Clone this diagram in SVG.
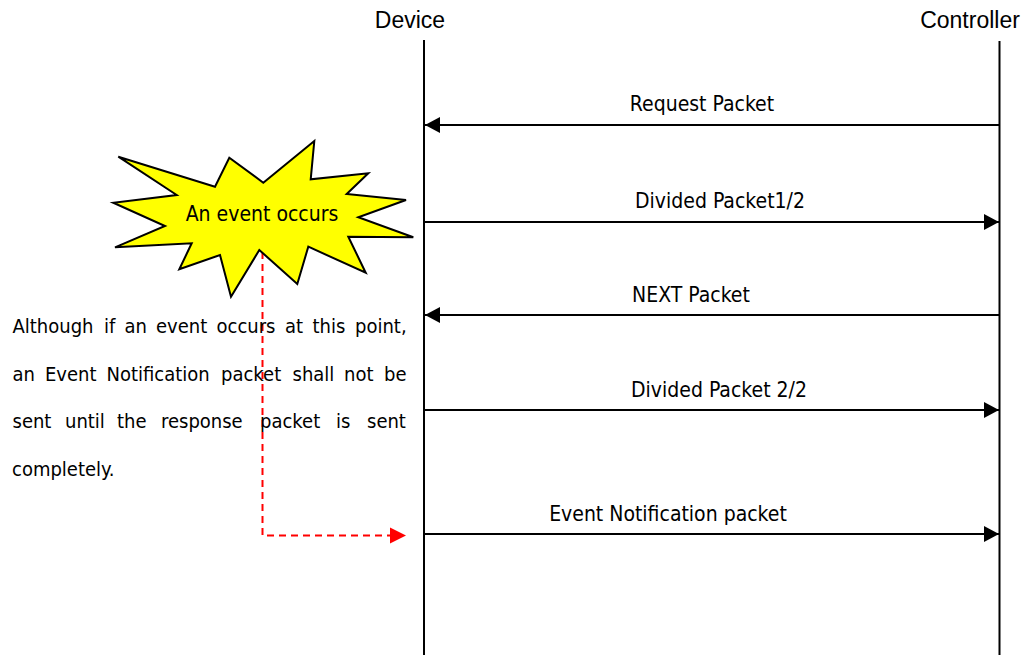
<svg xmlns="http://www.w3.org/2000/svg" width="1031" height="655" viewBox="0 0 1031 655">
  <style>
    .t { font-family: "DejaVu Sans Condensed", "DejaVu Sans", sans-serif; font-stretch: condensed; font-size: 21px; fill: #000; }
    .p { font-family: "DejaVu Sans Condensed", "DejaVu Sans", sans-serif; font-stretch: condensed; font-size: 20px; fill: #000; }
    .head { font-family: "Liberation Sans", Arial, sans-serif; font-size: 23px; fill: #000; }
    .life { stroke: #000; stroke-width: 2; fill: none; }
    .msg { stroke: #000; stroke-width: 2; fill: none; }
    .hint { stroke: #ff0000; stroke-width: 2; fill: none; stroke-dasharray: 7 5; }
  </style>
  <defs>
    <marker id="ah" viewBox="0 0 15 16" refX="15" refY="8" markerWidth="15" markerHeight="16" markerUnits="userSpaceOnUse" orient="auto">
      <path d="M0,0 L15,8 L0,16 Z" fill="#000"/>
    </marker>
  </defs>
  <rect width="1031" height="655" fill="#fff"/>

  <!-- participants -->
  <g id="device">
    <text class="head" x="410" y="28" text-anchor="middle">Device</text>
    <line class="life" x1="424" y1="40" x2="424" y2="655"/>
  </g>
  <g id="controller">
    <text class="head" x="970" y="28" text-anchor="middle">Controller</text>
    <line class="life" x1="999.5" y1="41" x2="999.5" y2="655"/>
  </g>

  <!-- messages -->
  <g id="connectors">
    <line class="msg" x1="999" y1="125" x2="425" y2="125" marker-end="url(#ah)"/>
    <text class="t" x="702" y="111" text-anchor="middle">Request Packet</text>

    <line class="msg" x1="424" y1="222" x2="999" y2="222" marker-end="url(#ah)"/>
    <text class="t" x="720" y="208" text-anchor="middle">Divided Packet1/2</text>

    <line class="msg" x1="999" y1="315" x2="425" y2="315" marker-end="url(#ah)"/>
    <text class="t" x="691" y="302" text-anchor="middle">NEXT Packet</text>

    <line class="msg" x1="424" y1="410" x2="999" y2="410" marker-end="url(#ah)"/>
    <text class="t" x="719" y="397" text-anchor="middle">Divided Packet 2/2</text>

    <line class="msg" x1="424" y1="534" x2="999" y2="534" marker-end="url(#ah)"/>
    <text class="t" x="668" y="521" text-anchor="middle">Event Notification packet</text>

    <!-- deferred event path -->
    <polyline class="hint" points="262.5,252 262.5,535.5 390,535.5"/>
    <path d="M390,527.5 L406,535.5 L390,543.5 Z" fill="#ff0000"/>
  </g>

  <!-- event burst -->
  <g id="event">
    <polygon points="118.3,156.7 215,186.7 229.3,157.7 263.3,182.7 314.3,141 310.7,179.3 368.3,173.3 346.7,194 406,200 358.3,217.3 413.3,237.3 348.3,236.7 365.7,272.7 308.3,246.7 297.3,284 259.3,250 231,296.7 220,255 179.3,269.3 191.7,243.3 115,247.3 165,226 113.3,202.7 176.7,195" fill="#ffff00" stroke="#000" stroke-width="2" stroke-linejoin="miter"/>
    <text class="t" x="262" y="221" text-anchor="middle">An event occurs</text>
  </g>

  <!-- note, justified word by word -->
  <g id="note">
    <text class="p" y="333"><tspan x="12.5">Although</tspan><tspan x="104">if</tspan><tspan x="124.5">an</tspan><tspan x="156">event</tspan><tspan x="216.5">occurs</tspan><tspan x="285">at</tspan><tspan x="312.5">this</tspan><tspan x="355">point,</tspan></text>
    <text class="p" y="381"><tspan x="12.5">an</tspan><tspan x="45">Event</tspan><tspan x="106.5">Notification</tspan><tspan x="221">packet</tspan><tspan x="292.5">shall</tspan><tspan x="344">not</tspan><tspan x="384">be</tspan></text>
    <text class="p" y="428"><tspan x="12.5">sent</tspan><tspan x="65">until</tspan><tspan x="117">the</tspan><tspan x="161">response</tspan><tspan x="260">packet</tspan><tspan x="336">is</tspan><tspan x="367">sent</tspan></text>
    <text class="p" x="12" y="476">completely.</text>
  </g>
</svg>
